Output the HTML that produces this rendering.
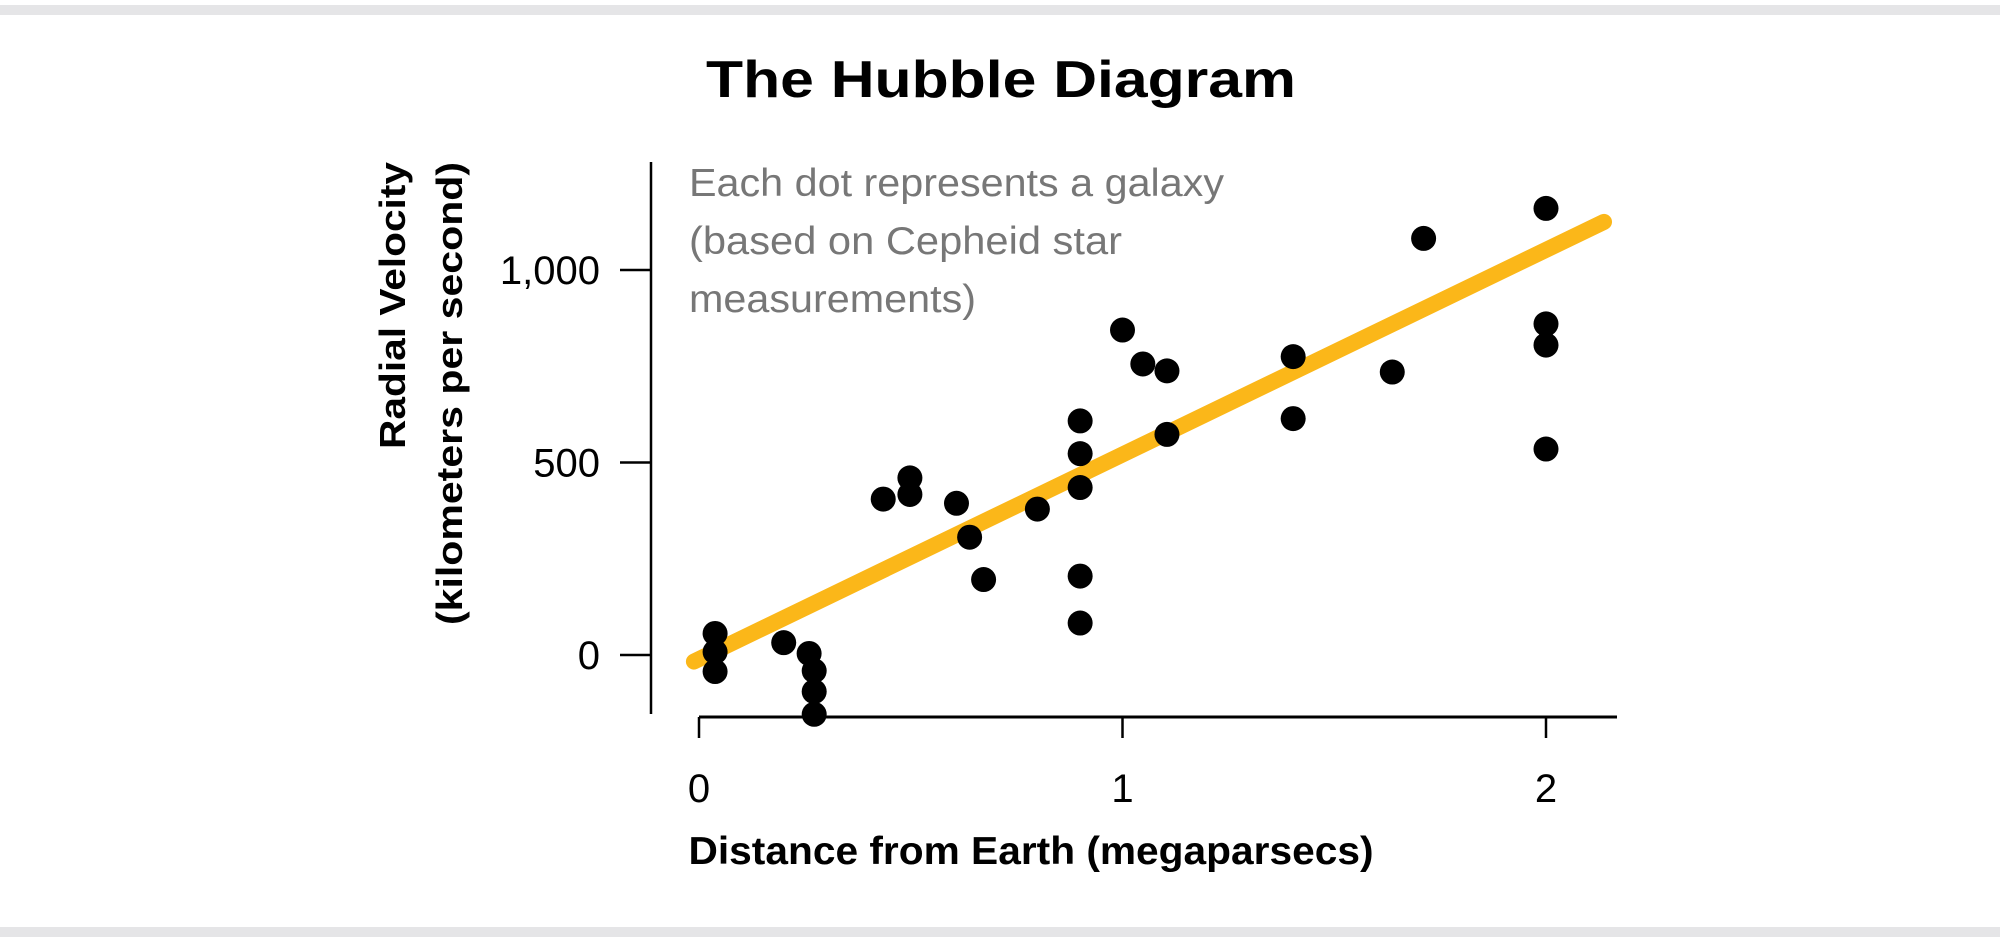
<!DOCTYPE html>
<html><head><meta charset="utf-8"><style>
html,body{margin:0;padding:0;background:#fff;}
svg{display:block;}
</style></head><body>
<svg id="chart" width="2000" height="943" viewBox="0 0 2000 943" xmlns="http://www.w3.org/2000/svg">
<rect x="0" y="5" width="2000" height="10" fill="#e5e5e7"/>
<rect x="0" y="927" width="2000" height="10" fill="#e5e5e7"/>
<text x="1001" y="97" text-anchor="middle" font-family="'Liberation Sans',sans-serif" font-weight="bold" font-size="52" textLength="590" lengthAdjust="spacingAndGlyphs" fill="#000">The Hubble Diagram</text>
<g font-family="'Liberation Sans Narrow','Liberation Sans',sans-serif" font-size="39" fill="#777">
<text x="689" y="196" textLength="535" lengthAdjust="spacingAndGlyphs">Each dot represents a galaxy</text>
<text x="689" y="254" textLength="433" lengthAdjust="spacingAndGlyphs">(based on Cepheid star</text>
<text x="689" y="312" textLength="287" lengthAdjust="spacingAndGlyphs">measurements)</text>
</g>
<line x1="651" y1="162" x2="651" y2="714" stroke="#000" stroke-width="2.5"/>
<line x1="699" y1="717" x2="1617" y2="717" stroke="#000" stroke-width="3"/>
<g id="yticks"></g><g id="xticks"></g>
<g id="fit"></g><g id="dots"></g>
<text x="1031" y="864" text-anchor="middle" font-family="'Liberation Sans Narrow','Liberation Sans',sans-serif" font-weight="bold" font-size="39" textLength="685" lengthAdjust="spacingAndGlyphs" fill="#000">Distance from Earth (megaparsecs)</text>
<g transform="translate(405,162) rotate(-90)" font-family="'Liberation Sans',sans-serif" font-weight="bold" font-size="36" fill="#000">
<text x="0" y="0" text-anchor="end" textLength="287" lengthAdjust="spacingAndGlyphs">Radial Velocity</text>
<text x="0" y="57" text-anchor="end" textLength="463" lengthAdjust="spacingAndGlyphs">(kilometers per second)</text>
</g>
</svg>
<script>
const distances = [0.038,0.038,0.038,0.20,0.26,0.272,0.272,0.272,0.435,0.498,0.498,0.608,0.639,0.672,0.799,0.9,0.9,0.9,0.9,0.9,1.0,1.048,1.105,1.105,1.403,1.403,1.637,1.711,2.0,2.0,2.0,2.0];
const velocities = [56,8,-43,32,4,-41,-95,-154,405,460,417,394,306,196,379,608,523,435,205,83,844,756,738,573,775,614,735,1082,1160,860,805,535];
const xTicks = [0,1,2];
const xTickLabels = ["0","1","2"];
const yTicks = [0,500,1000];
const yTickLabels = ["0","500","1,000"];
const fitStart = [-0.012,-17];
const fitEnd = [2.137,1125];

const NS = "http://www.w3.org/2000/svg";
const xS = d => 699 + d * 423.5;
const yS = v => 655 - v * 0.385;
function mk(tag, attrs, parent){const e=document.createElementNS(NS,tag);for(const k in attrs)e.setAttribute(k,attrs[k]);parent.appendChild(e);return e;}

const yt = document.getElementById('yticks');
yTicks.forEach((v,i)=>{
  const l = mk('line',{x1:620,x2:651,y1:yS(v),y2:yS(v),stroke:'#000','stroke-width':2.5},yt);
  
  
  const t = mk('text',{x:600,y:yS(v)+14,'text-anchor':'end','font-family':"'Liberation Sans Narrow','Liberation Sans',sans-serif",'font-size':40,fill:'#000'},yt);
  t.textContent = yTickLabels[i];
  
  
});
const xt = document.getElementById('xticks');
xTicks.forEach((d,i)=>{
  const l = mk('line',{x1:xS(d),x2:xS(d),y1:717,y2:738,stroke:'#000','stroke-width':2.5},xt);
  
  
  const t = mk('text',{x:xS(d),y:802,'text-anchor':'middle','font-family':"'Liberation Sans Narrow','Liberation Sans',sans-serif",'font-size':40,fill:'#000'},xt);
  t.textContent = xTickLabels[i];
  
  
});
const fit = mk('line',{x1:xS(fitStart[0]),y1:yS(fitStart[1]),x2:xS(fitEnd[0]),y2:yS(fitEnd[1]),stroke:'#fbb719','stroke-width':16,'stroke-linecap':'round'},document.getElementById('fit'));


const dg = document.getElementById('dots');
distances.forEach((d,i)=>{
  const c = mk('ellipse',{cx:xS(d),cy:yS(velocities[i]),rx:12.5,ry:12.5,fill:'#000'},dg);
  
  
});
</script>
</body></html>
